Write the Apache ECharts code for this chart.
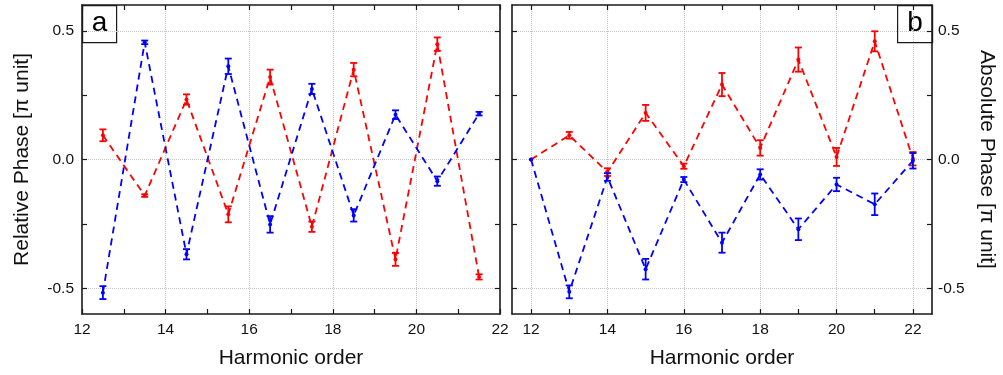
<!DOCTYPE html>
<html>
<head>
    <meta charset="UTF-8">
    <title>Phase</title>
    <script src="https://cdn.jsdelivr.net/npm/echarts@6/dist/echarts.min.js"></script>
    <style>
        html, body { margin: 0; padding: 0; background: #fff; }
        #chart { width: 1003px; height: 375px; }
    </style>
</head>
<body>
<div id="chart"></div>
<script>
    // panel a: relative phase at half-integer orders
    var leftX = [12.5, 13.5, 14.5, 15.5, 16.5, 17.5, 18.5, 19.5, 20.5, 21.5];
    var leftRed = [0.094, -0.14, 0.233, -0.213, 0.32, -0.261, 0.349, -0.388, 0.448, -0.456];
    var leftRedErr = [0.023, 0.005, 0.02, 0.031, 0.029, 0.02, 0.026, 0.025, 0.026, 0.01];
    var leftBlue = [-0.517, 0.455, -0.368, 0.362, -0.252, 0.274, -0.217, 0.174, -0.084, 0.178];
    var leftBlueErr = [0.025, 0.007, 0.02, 0.03, 0.032, 0.02, 0.024, 0.017, 0.018, 0.007];

    // panel b: absolute phase at integer orders
    var rightX = [12, 13, 14, 15, 16, 17, 18, 19, 20, 21, 22];
    var rightRed = [0.0, 0.094, -0.049, 0.181, -0.026, 0.291, 0.045, 0.388, 0.01, 0.459, 0.003];
    var rightRedErr = [0, 0.013, 0.015, 0.031, 0.01, 0.045, 0.03, 0.047, 0.035, 0.039, 0.026];
    var rightBlue = [0.0, -0.514, -0.068, -0.426, -0.078, -0.323, -0.058, -0.271, -0.097, -0.174, -0.005];
    var rightBlueErr = [0, 0.025, 0.015, 0.04, 0.01, 0.039, 0.02, 0.042, 0.026, 0.042, 0.03];

    var xLabelsA = [12, 14, 16, 18, 20, 22];
    var xTicksA = [12, 13, 14, 15, 16, 17, 18, 19, 20, 21, 22];
    var xGridA = [14, 16, 18, 20];
    var xLabelsB = [12, 14, 16, 18, 20, 22];
    var xTicksB = [12, 13, 14, 15, 16, 17, 18, 19, 20, 21, 22];
    var xGridB = [12, 14, 16, 18, 20, 22];
    var yLabels = [-0.5, 0, 0.5];
    var yTicks = [-0.5, -0.25, 0, 0.25, 0.5];

    var RED = '#ff0000';
    var BLUE = '#0000ff';
    var FONT = '"Liberation Sans", Arial, sans-serif';
    var AXIS_COLOR = '#1a1a1a';

    function pairs(xs, ys) {
        return xs.map(function (x, i) { return [x, ys[i]]; });
    }
    function errRows(xs, ys, es) {
        var out = [];
        xs.forEach(function (x, i) {
            if (es[i] > 0) out.push([x, ys[i] - es[i], ys[i] + es[i]]);
        });
        return out;
    }

    function errorBar(color) {
        return function (params, api) {
            var top = api.coord([api.value(0), api.value(2)]);
            var bot = api.coord([api.value(0), api.value(1)]);
            var w = 3.5;
            var st = { stroke: color, lineWidth: 1.8 };
            return {
                type: 'group',
                children: [
                    { type: 'line', shape: { x1: top[0], y1: top[1], x2: bot[0], y2: bot[1] }, style: st },
                    { type: 'line', shape: { x1: top[0] - w, y1: top[1], x2: top[0] + w, y2: top[1] }, style: st },
                    { type: 'line', shape: { x1: bot[0] - w, y1: bot[1], x2: bot[0] + w, y2: bot[1] }, style: st }
                ]
            };
        };
    }

    function lineSeries(data, color, xi, yi) {
        return {
            type: 'line',
            xAxisIndex: xi, yAxisIndex: yi,
            data: data,
            symbol: 'circle', symbolSize: 4,
            itemStyle: { color: color },
            lineStyle: { color: color, width: 1.8, type: [7, 5] },
            z: 3, animation: false
        };
    }
    function barSeries(data, color, xi, yi) {
        return {
            type: 'custom',
            xAxisIndex: xi, yAxisIndex: yi,
            data: data,
            encode: { x: 0, y: [1, 2] },
            renderItem: errorBar(color),
            z: 4, animation: false
        };
    }

    var tickStyle = { inside: true, length: 5, lineStyle: { color: AXIS_COLOR, width: 1.2 } };
    var lineAxis = { show: true, onZero: false, lineStyle: { color: AXIS_COLOR, width: 1.6 } };
    var gridLine = { show: true, lineStyle: { color: '#c4c4c4', type: 'dotted', width: 1 } };
    var labelStyle = { fontFamily: FONT, fontSize: 15.5, color: '#111' };

    function xAxes(gridIndex, min, max, labels, ticks, gridVals) {
        return [
            {
                type: 'value', gridIndex: gridIndex, position: 'bottom', min: min, max: max,
                name: 'Harmonic order', nameLocation: 'middle', nameGap: 34,
                nameTextStyle: { fontFamily: FONT, fontSize: 21, color: '#111' },
                axisLine: lineAxis,
                axisTick: Object.assign({ customValues: ticks }, tickStyle),
                axisLabel: Object.assign({ customValues: labels, margin: 8 }, labelStyle),
                splitLine: { show: false }
            },
            {
                type: 'value', gridIndex: gridIndex, position: 'top', min: min, max: max,
                axisLine: lineAxis,
                axisTick: Object.assign({ customValues: ticks }, tickStyle),
                axisLabel: { show: false },
                splitLine: { show: false }
            },
            {
                type: 'value', gridIndex: gridIndex, position: 'bottom', min: min, max: max,
                axisLine: { show: false },
                axisTick: { show: false, customValues: gridVals },
                axisLabel: { show: false },
                splitLine: gridLine
            }
        ];
    }

    function fmt(v) { return v.toFixed(1); }

    var option = {
        backgroundColor: '#fff',
        animation: false,
        grid: [
            { left: 82, top: 5, width: 418, height: 309 },
            { left: 512, top: 5, width: 420, height: 309 }
        ],
        xAxis: [].concat(
            xAxes(0, 12, 22, xLabelsA, xTicksA, xGridA),
            xAxes(1, 11.5, 22.5, xLabelsB, xTicksB, xGridB)
        ),
        yAxis: [
            {
                type: 'value', gridIndex: 0, position: 'left', min: -0.6, max: 0.6,
                name: 'Relative Phase [\u03c0 unit]', nameLocation: 'middle', nameGap: 49,
                nameTextStyle: { fontFamily: FONT, fontSize: 21, color: '#111' },
                axisLine: lineAxis,
                axisTick: Object.assign({ customValues: yTicks }, tickStyle),
                axisLabel: Object.assign({ customValues: yLabels, margin: 8, formatter: fmt }, labelStyle),
                splitLine: { show: false }
            },
            {
                type: 'value', gridIndex: 0, position: 'right', min: -0.6, max: 0.6,
                axisLine: lineAxis,
                axisTick: Object.assign({ customValues: yTicks }, tickStyle),
                axisLabel: { show: false },
                splitLine: { show: false }
            },
            {
                type: 'value', gridIndex: 0, position: 'left', min: -0.6, max: 0.6,
                axisLine: { show: false },
                axisTick: { show: false, customValues: yLabels },
                axisLabel: { show: false },
                splitLine: gridLine
            },
            {
                type: 'value', gridIndex: 1, position: 'left', min: -0.6, max: 0.6,
                axisLine: lineAxis,
                axisTick: Object.assign({ customValues: yTicks }, tickStyle),
                axisLabel: { show: false },
                splitLine: { show: false }
            },
            {
                type: 'value', gridIndex: 1, position: 'right', min: -0.6, max: 0.6,
                name: 'Absolute Phase [\u03c0 unit]', nameLocation: 'middle', nameGap: 44, nameRotate: -90,
                nameTextStyle: { fontFamily: FONT, fontSize: 21, color: '#111' },
                axisLine: lineAxis,
                axisTick: Object.assign({ customValues: yTicks }, tickStyle),
                axisLabel: Object.assign({ customValues: yLabels, margin: 6, formatter: fmt }, labelStyle),
                splitLine: { show: false }
            },
            {
                type: 'value', gridIndex: 1, position: 'right', min: -0.6, max: 0.6,
                axisLine: { show: false },
                axisTick: { show: false, customValues: yLabels },
                axisLabel: { show: false },
                splitLine: gridLine
            }
        ],
        series: [
            lineSeries(pairs(leftX, leftRed), RED, 0, 0),
            lineSeries(pairs(leftX, leftBlue), BLUE, 0, 0),
            barSeries(errRows(leftX, leftRed, leftRedErr), RED, 0, 0),
            barSeries(errRows(leftX, leftBlue, leftBlueErr), BLUE, 0, 0),
            lineSeries(pairs(rightX, rightRed), RED, 3, 4),
            lineSeries(pairs(rightX, rightBlue), BLUE, 3, 4),
            barSeries(errRows(rightX, rightRed, rightRedErr), RED, 3, 4),
            barSeries(errRows(rightX, rightBlue, rightBlueErr), BLUE, 3, 4)
        ],
        graphic: [
            {
                type: 'group', left: 82, top: 5, z: 10,
                children: [
                    { type: 'rect', shape: { x: 0, y: 0, width: 34, height: 37 },
                      style: { fill: '#fff', stroke: AXIS_COLOR, lineWidth: 1.2 } },
                    { type: 'text', x: 17, y: 18,
                      style: { text: 'a', font: '28px ' + FONT, fill: '#000', align: 'center', verticalAlign: 'middle' } }
                ]
            },
            {
                type: 'group', left: 897, top: 5, z: 10,
                children: [
                    { type: 'rect', shape: { x: 0, y: 0, width: 35, height: 37 },
                      style: { fill: '#fff', stroke: AXIS_COLOR, lineWidth: 1.2 } },
                    { type: 'text', x: 17.5, y: 18,
                      style: { text: 'b', font: '28px ' + FONT, fill: '#000', align: 'center', verticalAlign: 'middle' } }
                ]
            }
        ]
    };

    var chart = echarts.init(document.getElementById('chart'));
    chart.setOption(option);
</script>
</body>
</html>
